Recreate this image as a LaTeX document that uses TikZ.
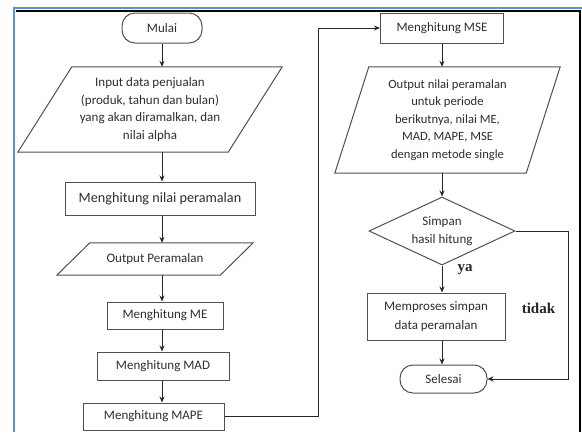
\documentclass[tikz,border=0pt]{standalone}
\usepackage{fontspec}
\setmainfont{Carlito}
\newfontfamily\boldserif{Liberation Serif}
\usetikzlibrary{arrows.meta,shapes.geometric,calc}
\definecolor{frameblue}{HTML}{5B8FD6}
\definecolor{boxgray}{HTML}{505050}
\definecolor{txt}{HTML}{2E2E2E}
\newcommand{\drawpara}[2]{%
  \draw[draw=boxgray, line width=1pt, line join=miter]
    ($(#1.north west)+(#2,0)$) -- (#1.north east) --
    ($(#1.south east)-(#2,0)$) -- (#1.south west) -- cycle;}
\begin{document}
\begin{tikzpicture}[x=1pt,y=-1pt,
  basefont/.style={font=\fontsize{13}{17.7}\selectfont, text=txt, align=center},
  box/.style={basefont, rectangle, draw=boxgray, line width=1pt, inner sep=0pt},
  term/.style={box, rounded corners=13pt},
  para/.style={basefont, rectangle, inner sep=0pt},
  dec/.style={basefont, diamond, draw=boxgray, line width=1pt, inner sep=0pt, aspect=2.15},
  flow/.style={draw=black!85, line width=0.9pt, -{Stealth[length=6pt,width=5pt]}},
  lbl/.style={font=\boldserif\bfseries\fontsize{15}{18}\selectfont, text=black!85}
]
\useasboundingbox (0,0) rectangle (582,432);
\fill[white] (0,0) rectangle (582,432);
% frame
\draw[frameblue, line width=2pt] (14,432) -- (14,8) -- (582,8);
\draw[black, line width=1.4pt] (15.5,10.8) -- (580,10.8) -- (580,432);

% left column
\node[term, minimum width=80pt, minimum height=30pt] (mulai) at (162,28) {Mulai};
\node[para, minimum width=264pt, minimum height=85pt] (input) at (150,109.5)
  {Input data penjualan\\(produk, tahun dan bulan)\\yang akan diramalkan, dan\\nilai alpha};
\drawpara{input}{54}
\node[box, minimum width=190pt, minimum height=33pt, font=\fontsize{14.2}{17}\selectfont] (hitung) at (160,198.5) {Menghitung nilai peramalan};
\node[para, minimum width=196pt, minimum height=32pt] (outp) at (155,259) {Output Peramalan};
\drawpara{outp}{33}
\node[box, minimum width=116pt, minimum height=27pt] (me) at (165,315.5) {Menghitung ME};
\node[box, minimum width=132pt, minimum height=28pt] (mad) at (163,366) {Menghitung MAD};
\node[box, minimum width=141pt, minimum height=27pt] (mape) at (153.5,416.5) {Menghitung MAPE};

% right column
\node[box, minimum width=123pt, minimum height=30pt] (mse) at (442,28) {Menghitung MSE};
\node[para, minimum width=225pt, minimum height=106pt, font=\fontsize{12.6}{17.6}\selectfont] (outr) at (447.5,120)
  {Output nilai peramalan\\untuk periode\\berikutnya, nilai ME,\\MAD, MAPE, MSE\\dengan metode single};
\drawpara{outr}{34}
\node[dec, minimum width=146pt, minimum height=68pt] (dia) at (442,231) {Simpan\\hasil hitung};
\node[box, minimum width=138pt, minimum height=47pt, font=\fontsize{13}{19}\selectfont] (memp) at (436,316.5) {Memproses simpan\\data peramalan};
\node[term, minimum width=87pt, minimum height=28pt] (sel) at (443.5,379) {Selesai};

\node[lbl] (ya) at (465,270) {ya};
\node[lbl] (tidak) at (538.5,308) {tidak};

\coordinate (loopx) at (318,0);
\coordinate (tidx) at (568,0);

% connectors left
\draw[flow] (mulai.south) -- (mulai.south |- input.north);
\draw[flow] (input.south -| mulai) -- (hitung.north -| mulai);
\draw[flow] (hitung.south -| mulai) -- (outp.north -| mulai);
\draw[flow] (outp.south -| mulai) -- (me.north -| mulai);
\draw[flow] (me.south -| mulai) -- (mad.north -| mulai);
\draw[flow] (mad.south -| mulai) -- (mape.north -| mulai);
\draw[flow] (mape.east) -- (mape.east -| loopx) -- (loopx |- mse.west) -- (mse.west);

% connectors right
\draw[flow] (mse.south -| dia) -- (outr.north -| dia);
\draw[flow] (outr.south -| dia) -- (dia.north);
\draw[flow] (dia.south) -- (memp.north -| dia);
\draw[flow] (memp.south -| dia) -- (sel.north -| dia);
\draw[flow] (dia.east) -- (dia.east -| tidx) -- (tidx |- sel.east) -- (sel.east);
\end{tikzpicture}
\end{document}
